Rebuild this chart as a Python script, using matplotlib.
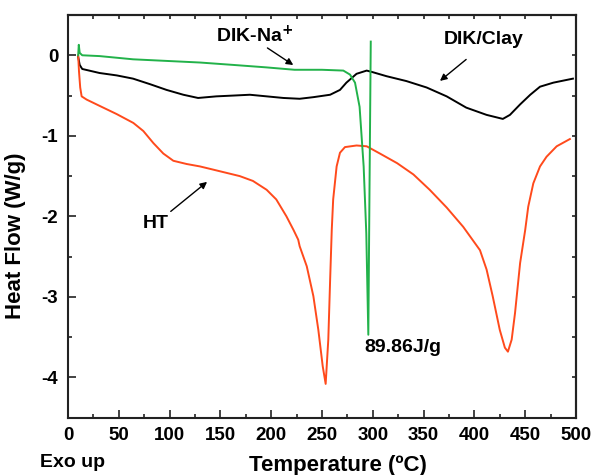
""" dsc plot """

import matplotlib
matplotlib.use("Agg")
import matplotlib.pyplot as plt
from matplotlib.ticker import MultipleLocator, NullFormatter

plt.rcParams['font.family'] = ['Liberation Sans', 'DejaVu Sans']
plt.rcParams['font.weight'] = 'bold'

# DIK-Na+ (green)
na_t = [10, 10.6, 11.5, 14, 31, 64, 97, 130, 163, 195, 223, 250, 271, 277.6, 282.5, 287, 291, 293.6, 295.6, 296.8, 298]
na_v = [0.0, 0.13, 0.03, 0.0, -0.01, -0.05, -0.07, -0.09, -0.12, -0.15, -0.18, -0.18, -0.19, -0.24, -0.34, -0.64, -1.38, -2.21, -3.47, -1.6, 0.17]

# DIK/Clay (black)
clay_t = [10, 11.5, 14, 31, 48, 64, 81, 97, 113.5, 128, 146, 163, 179, 195.5, 212, 228, 241.5, 258, 267.7, 274, 284, 294, 300, 313.6, 333, 353, 372.7, 392, 412, 428, 435, 445, 455, 464.6, 477.7, 497]
clay_v = [-0.02, -0.12, -0.17, -0.22, -0.25, -0.29, -0.36, -0.43, -0.49, -0.53, -0.51, -0.50, -0.49, -0.51, -0.53, -0.54, -0.52, -0.49, -0.43, -0.34, -0.23, -0.19, -0.21, -0.26, -0.32, -0.40, -0.51, -0.65, -0.74, -0.79, -0.74, -0.61, -0.49, -0.39, -0.34, -0.29]

# HT (orange)
ht_t = [10, 10.8, 12, 13.4, 18.3, 31.4, 47.9, 64.3, 74.1, 84, 93.8, 103.7, 116.8, 129.9, 143, 156, 169, 182, 195.5, 205, 215, 222, 226.6, 228, 235, 241.5, 246.4, 250.7, 253.6, 256.2, 258, 259.6, 261, 264.4, 267.7, 272.6, 284, 294, 307, 324, 340, 356, 372.7, 389, 405.5, 412, 418, 425, 430, 433, 436.7, 440, 445, 450, 453, 458, 464.6, 471, 481, 494]
ht_v = [0.0, -0.2, -0.4, -0.51, -0.55, -0.63, -0.73, -0.84, -0.94, -1.09, -1.22, -1.31, -1.35, -1.38, -1.42, -1.46, -1.50, -1.56, -1.67, -1.79, -2.0, -2.17, -2.29, -2.37, -2.62, -2.99, -3.41, -3.86, -4.08, -3.53, -2.79, -2.17, -1.79, -1.38, -1.21, -1.14, -1.12, -1.13, -1.22, -1.34, -1.48, -1.67, -1.89, -2.13, -2.42, -2.66, -2.99, -3.41, -3.63, -3.68, -3.53, -3.20, -2.58, -2.17, -1.88, -1.59, -1.38, -1.26, -1.13, -1.04]

x_ticks = [0, 50, 100, 150, 200, 250, 300, 350, 400, 450, 500]
y_ticks = [0, -1, -2, -3, -4]

GREEN = '#22b24a'
ORANGE = '#ff4a1c'
INK = '#222222'

fig = plt.figure(figsize=(5.93, 4.75), dpi=100)
ax = fig.add_axes([0.1147, 0.1206, 0.8566, 0.8478])

ax.plot(clay_t, clay_v, color='black', lw=1.4)
ax.plot(ht_t, ht_v, color=ORANGE, lw=1.4)
ax.plot(na_t, na_v, color=GREEN, lw=1.4)

ax.set_xlim(0, 500)
ax.set_ylim(-4.5, 0.5)
ax.set_xticks(x_ticks)
ax.set_yticks(y_ticks)
ax.set_yticklabels([str(v) for v in y_ticks])
ax.xaxis.set_minor_locator(MultipleLocator(25))
ax.yaxis.set_minor_locator(MultipleLocator(0.5))
ax.tick_params(which='both', direction='in', width=1.2, color=INK, labelsize=13.5, pad=7)
ax.tick_params(which='major', length=6)
ax.tick_params(which='minor', length=3)
for s in ax.spines.values():
  s.set_linewidth(1.5)
  s.set_color(INK)

# top / right: short ticks only
top = ax.secondary_xaxis('top')
top.xaxis.set_major_locator(MultipleLocator(25))
top.xaxis.set_major_formatter(NullFormatter())
top.tick_params(direction='in', length=3, width=1.2, color=INK)
right = ax.secondary_yaxis('right')
right.yaxis.set_major_locator(MultipleLocator(0.5))
right.yaxis.set_major_formatter(NullFormatter())
right.tick_params(direction='in', length=3, width=1.2, color=INK)
for sec in (top, right):
  for s in sec.spines.values():
    s.set_linewidth(1.5)
    s.set_color(INK)

ax.set_ylabel('Heat Flow (W/g)', fontsize=16, fontweight='bold')
ax.yaxis.set_label_coords(-0.083, 0.451)
ax.set_xlabel('Temperature (ºC)', fontsize=16, fontweight='bold')
ax.xaxis.set_label_coords(0.531, -0.093)
fig.text(0.0675, 0.027, 'Exo up', fontsize=14, fontweight='bold', va='center')

ax.text(184, 0.245, 'DIK-Na$^\\mathbf{+}$', fontsize=14, fontweight='bold', ha='center', va='center')
ax.annotate('', xy=(224, -0.14), xytext=(194, 0.11),
            arrowprops=dict(arrowstyle='-|>', color='black', lw=1.0, mutation_scale=10))
ax.text(409, 0.19, 'DIK/Clay', fontsize=14, fontweight='bold', ha='center', va='center')
ax.annotate('', xy=(364, -0.34), xytext=(394, -0.03),
            arrowprops=dict(arrowstyle='-|>', color='black', lw=1.0, mutation_scale=10))
ax.text(86, -2.09, 'HT', fontsize=14, fontweight='bold', ha='center', va='center')
ax.annotate('', xy=(139, -1.55), xytext=(99, -1.96),
            arrowprops=dict(arrowstyle='-|>', color='black', lw=1.0, mutation_scale=10))
ax.text(292, -3.63, '89.86J/g', fontsize=14, fontweight='bold', ha='left', va='center')

fig.savefig('out.png', dpi=100)
